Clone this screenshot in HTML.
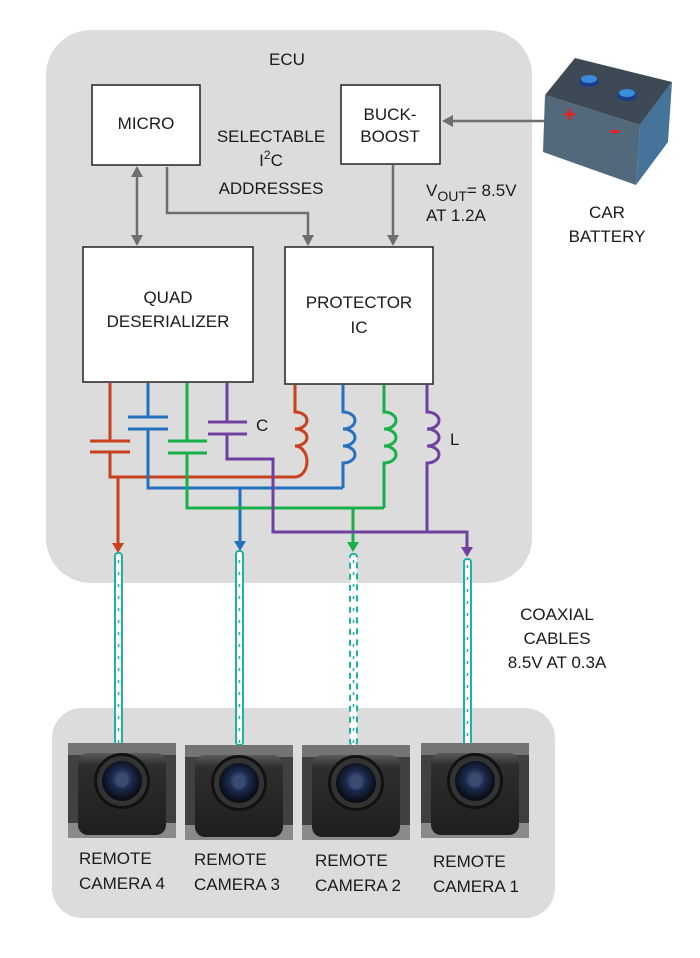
<!DOCTYPE html>
<html><head><meta charset="utf-8"><style>
html,body{margin:0;padding:0;background:#fff}
svg{display:block}
text{font-family:"Liberation Sans",sans-serif;font-size:17px;fill:#1a1a1a}
</style></head><body>
<svg width="700" height="958" viewBox="0 0 700 958" xmlns="http://www.w3.org/2000/svg">
<defs>
<radialGradient id="lens" cx="50%" cy="45%" r="50%"><stop offset="0" stop-color="#5a6e9a"/><stop offset="0.5" stop-color="#1c2a4e"/><stop offset="1" stop-color="#0a0d16"/></radialGradient>
<linearGradient id="cam" x1="0" y1="0" x2="0" y2="1"><stop offset="0" stop-color="#5a5a5a"/><stop offset="0.15" stop-color="#2e2e2e"/><stop offset="1" stop-color="#1e1e1e"/></linearGradient>
<g id="camera">
<rect x="0" y="0" width="108" height="95" fill="#404040"/>
<rect x="0" y="0" width="108" height="12" fill="#747474"/>
<rect x="0" y="80" width="108" height="15" fill="#8a8a8a"/>
<rect x="10" y="10" width="88" height="82" rx="10" fill="url(#cam)"/>
<circle cx="54" cy="38" r="28" fill="#111"/>
<circle cx="54" cy="38" r="25" fill="#333"/>
<circle cx="54" cy="38" r="20" fill="url(#lens)"/>
<circle cx="54" cy="38" r="6" fill="#3a4a70"/>
</g>
</defs>

<rect x="46" y="30" width="486" height="553" rx="45" fill="#dcdcdc"/>
<rect x="52" y="708" width="503" height="210" rx="30" fill="#dcdcdc"/>

<text x="287" y="65" text-anchor="middle">ECU</text>

<rect x="92" y="85" width="108" height="80" fill="#fff" stroke="#222" stroke-width="1.5"/>
<text x="146" y="129" text-anchor="middle">MICRO</text>
<rect x="341" y="85" width="99" height="79" fill="#fff" stroke="#222" stroke-width="1.5"/>
<text x="390" y="120" text-anchor="middle">BUCK-</text>
<text x="390" y="142" text-anchor="middle">BOOST</text>
<rect x="83" y="247" width="170" height="135" fill="#fff" stroke="#222" stroke-width="1.5"/>
<text x="168" y="303" text-anchor="middle">QUAD</text>
<text x="168" y="327" text-anchor="middle">DESERIALIZER</text>
<rect x="285" y="247" width="148" height="137" fill="#fff" stroke="#222" stroke-width="1.5"/>
<text x="359" y="308" text-anchor="middle">PROTECTOR</text>
<text x="359" y="333" text-anchor="middle">IC</text>

<text x="271" y="142" text-anchor="middle">SELECTABLE</text>
<text x="271" y="166" text-anchor="middle">I<tspan dy="-7" font-size="12">2</tspan><tspan dy="7">C</tspan></text>
<text x="271" y="194" text-anchor="middle">ADDRESSES</text>
<text x="426" y="196">V<tspan dy="5" font-size="14">OUT</tspan><tspan dy="-5">= 8.5V</tspan></text>
<text x="426" y="221">AT 1.2A</text>

<g stroke="#6e6e6e" stroke-width="2.5" fill="none">
<line x1="137" y1="176" x2="137" y2="236"/>
<polyline points="167,167 167,213 308,213 308,236"/>
<line x1="393" y1="165" x2="393" y2="236"/>
<line x1="545" y1="121" x2="452" y2="121"/>
</g>
<g fill="#6e6e6e">
<polygon points="131,177 143,177 137,166"/>
<polygon points="131,235 143,235 137,246"/>
<polygon points="302,235 314,235 308,246"/>
<polygon points="387,235 399,235 393,246"/>
<polygon points="453,115 453,127 442,121"/>
</g>

<polygon points="545,95 575,58 672,82 640,125" fill="#3d4a55"/>
<polygon points="545,95 640,125 636,185 543,152" fill="#52697b"/>
<polygon points="640,125 672,82 668,142 636,185" fill="#46739a"/>
<ellipse cx="589" cy="82" rx="10" ry="5" fill="#1c3e8a"/>
<ellipse cx="589" cy="79" rx="8" ry="4" fill="#3a8cd8"/>
<ellipse cx="627" cy="96" rx="10" ry="5" fill="#1c3e8a"/>
<ellipse cx="627" cy="93" rx="8" ry="4" fill="#3a8cd8"/>
<text x="563" y="122" style="fill:#e82020;font-size:22px;font-weight:bold">+</text>
<rect x="610" y="130" width="9" height="3" fill="#e82020"/>
<text x="607" y="218" text-anchor="middle">CAR</text>
<text x="607" y="242" text-anchor="middle">BATTERY</text>

<g fill="none" stroke-width="3">
<g stroke="#c8401e">
<line x1="110" y1="383" x2="110" y2="441"/>
<line x1="90" y1="441" x2="130" y2="441"/>
<line x1="90" y1="452" x2="130" y2="452"/>
<polyline points="110,452 110,477 295,477"/>
<path d="M295,385 V412 a12,8.5 0 0 1 0,17 a12,8.5 0 0 1 0,17 a12,15.5 0 0 1 0,31"/>
<line x1="118" y1="477" x2="118" y2="543"/>
</g>
<polygon points="112,543 124,543 118,553" fill="#c8401e"/>
<g stroke="#2670c0">
<line x1="148" y1="383" x2="148" y2="417"/>
<line x1="128" y1="417" x2="168" y2="417"/>
<line x1="128" y1="429" x2="168" y2="429"/>
<polyline points="148,429 148,488 343,488"/>
<path d="M343,385 V412 a12,8.5 0 0 1 0,17 a12,8.5 0 0 1 0,17 a12,8.5 0 0 1 0,17 V488"/>
<line x1="240" y1="488" x2="240" y2="541"/>
</g>
<polygon points="234,541 246,541 240,551" fill="#2670c0"/>
<g stroke="#18b048">
<line x1="187" y1="383" x2="187" y2="441"/>
<line x1="168" y1="441" x2="207" y2="441"/>
<line x1="168" y1="453" x2="207" y2="453"/>
<polyline points="187,453 187,508 384,508"/>
<path d="M384,385 V412 a12,8.5 0 0 1 0,17 a12,8.5 0 0 1 0,17 a12,8.5 0 0 1 0,17 V508"/>
<line x1="353" y1="508" x2="353" y2="542"/>
</g>
<polygon points="347,542 359,542 353,552" fill="#18b048"/>
<g stroke="#7040a0">
<line x1="227" y1="383" x2="227" y2="422"/>
<line x1="208" y1="422" x2="247" y2="422"/>
<line x1="208" y1="434" x2="247" y2="434"/>
<polyline points="227,434 227,459 273,459 273,532 467,532 467,548"/>
<path d="M427,385 V412 a12,8.5 0 0 1 0,17 a12,8.5 0 0 1 0,17 a12,8.5 0 0 1 0,17 V532"/>
</g>
<polygon points="461,547 473,547 467,557" fill="#7040a0"/>
</g>
<text x="256" y="431">C</text>
<text x="450" y="445">L</text>

<g fill="#fff" stroke="#1fb0a6" stroke-width="2">
<rect x="115" y="553" width="7" height="192" rx="3"/>
<rect x="236" y="551" width="7" height="194" rx="3"/>
<rect x="350" y="554" width="7" height="191" rx="3" stroke-dasharray="6,5"/>
<rect x="464" y="559" width="7" height="186" rx="3"/>
</g>
<g stroke="#1fb0a6" stroke-width="1.5" stroke-dasharray="3,9">
<line x1="118.5" y1="560" x2="118.5" y2="745"/>
<line x1="239.5" y1="560" x2="239.5" y2="745"/>
<line x1="353.5" y1="560" x2="353.5" y2="745"/>
<line x1="467.5" y1="565" x2="467.5" y2="745"/>
</g>

<text x="557" y="620" text-anchor="middle">COAXIAL</text>
<text x="557" y="644" text-anchor="middle">CABLES</text>
<text x="557" y="668" text-anchor="middle">8.5V AT 0.3A</text>

<use href="#camera" x="68" y="743"/>
<use href="#camera" x="185" y="745"/>
<use href="#camera" x="302" y="745"/>
<use href="#camera" x="421" y="743"/>

<text x="79" y="864">REMOTE</text>
<text x="79" y="889">CAMERA 4</text>
<text x="194" y="865">REMOTE</text>
<text x="194" y="890">CAMERA 3</text>
<text x="315" y="866">REMOTE</text>
<text x="315" y="891">CAMERA 2</text>
<text x="433" y="867">REMOTE</text>
<text x="433" y="892">CAMERA 1</text>
</svg>
</body></html>
